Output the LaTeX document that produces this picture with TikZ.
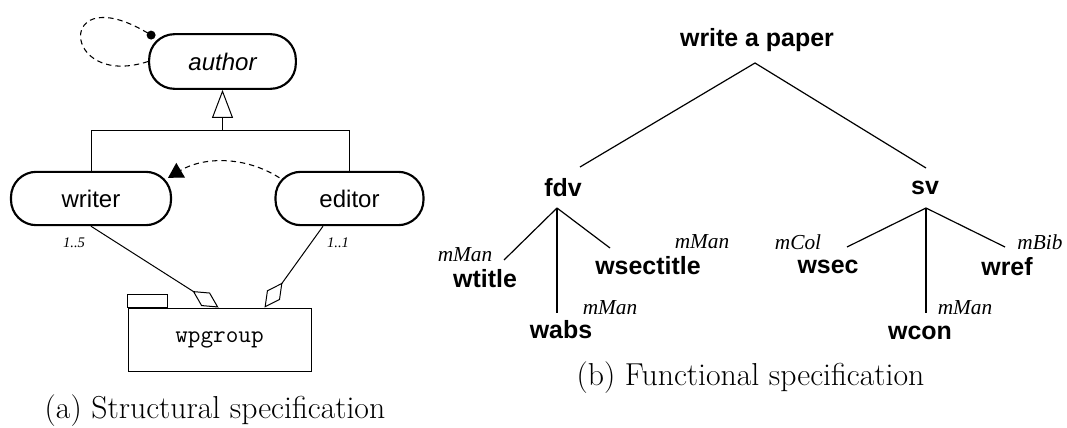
\documentclass[tikz,border=0pt]{standalone}
\usepackage{fontspec}
\setsansfont{Liberation Sans}
\newfontfamily\timesfam{Liberation Serif}
\usetikzlibrary{arrows.meta,calc}

\begin{document}
\begin{tikzpicture}[x=0.75pt,y=-0.75pt,
  role/.style={draw, line width=1.6pt, rounded corners=19pt, minimum height=40pt,
    inner sep=0pt, font=\sffamily\fontsize{18}{21}\selectfont},
  grp/.style={draw, line width=0.7pt, minimum width=137.25pt, minimum height=47.25pt,
    inner sep=0pt, font=\ttfamily\fontsize{18.4}{22}\selectfont},
  thin/.style={line width=0.75pt},
  dashline/.style={line width=0.8pt, dash pattern=on 4pt off 3pt},
  mult/.style={inner sep=0pt, font=\timesfam\itshape\fontsize{11}{13}\selectfont},
  goal/.style={inner sep=0pt, font=\sffamily\bfseries\fontsize{18.7}{22}\selectfont},
  card/.style={inner sep=0pt, font=\timesfam\itshape\fontsize{16}{19}\selectfont},
  edge/.style={line width=0.9pt},
  caption/.style={inner sep=0pt, font=\fontsize{23.8}{28}\selectfont}]
\useasboundingbox (0,0) rectangle (1067,428);

% ---------- structural specification ----------
\node[role, minimum width=110pt, minimum height=41pt] (author) at (222.5,61.5) {\itshape author};
\node[role, minimum width=120pt] (writer) at (91,198.5) {writer};
\node[role, minimum width=111pt] (editor) at (349.5,198.5) {editor};
\node[grp] (wp) at (219.5,339.5) {wpgroup};
\draw[thin] (wp.north west) rectangle ++(40,-13);

% inheritance
\draw[thin] (writer.north) |- (editor.north |- 0,130) -- (editor.north);
\draw[thin, -{Triangle[open,length=21pt,width=15.75pt]}] (author.south |- 0,130) -- (author.south);

% compatibility loop on author
\coordinate (loopend) at ($(author.north west)+(3,2)$);
\draw[dashline] (author.west) .. controls (60,90) and (55,-25) .. (loopend);
\fill (loopend) circle (4.5);

% link editor -> writer
\coordinate (ec) at ($(editor.north west)+(5,7)$);
\coordinate (wc) at ($(writer.north east)+(-4,7)$);
\draw[dashline, -{Triangle[length=11pt,width=12.75pt]}] (ec) .. controls (245,156) and (204,156.5) .. (wc);

% composition into the group
\coordinate (wpA) at ($(wp.north west)+(91,0)$);
\coordinate (wpB) at ($(wp.north west)+(137,0)$);
\draw[thin, -{Diamond[open,length=23pt,width=12pt]}] (writer.south) -- (wpA);
\draw[thin, -{Diamond[open,length=23pt,width=12pt]}] ($(editor.south)+(-26.5,0)$) -- (wpB);
\node[mult] (m1) at (74,243) {1..5};
\node[mult] (m2) at (338,243) {1..1};

\node[caption] (capA) at (215,411) {(a) Structural specification};

% ---------- functional specification ----------
\node[goal] (root) at (757,40) {write a paper};
\node[goal] (fdv) at (563,188) {fdv};
\node[goal] (sv) at (925,188) {sv};
\node[goal] (wtitle) at (485,279) {wtitle};
\node[goal] (wsectitle) at (648,266) {wsectitle};
\node[goal] (wabs) at (561,330) {wabs};
\node[goal] (wsec) at (828,267) {wsec};
\node[goal] (wref) at (1007,267) {wref};
\node[goal] (wcon) at (920,333) {wcon};

\node[card] (c1) at (465,255) {mMan};
\node[card] (c2) at (702,242) {mMan};
\node[card] (c3) at (610,308) {mMan};
\node[card] (c4) at (798,242) {mCol};
\node[card] (c5) at (1040,242) {mBib};
\node[card] (c6) at (965,308) {mMan};

\coordinate (rJ) at (755,63);
\coordinate (fdvT) at (580,167);
\coordinate (svT) at (926,168);
\coordinate (fJ) at (557,208);
\coordinate (sJ) at (926,208);
\coordinate (wtitleT) at (504,260);
\coordinate (wabsT) at (557,313);
\coordinate (wsectitleT) at (610,248);
\coordinate (wsecT) at (847,247);
\coordinate (wconT) at (926,313);
\coordinate (wrefT) at (1005,247);

\draw[edge] (fdvT) -- (rJ) -- (svT);
\draw[edge] (fJ) -- (wtitleT);
\draw[edge] (fJ) -- (wabsT);
\draw[edge] (fJ) -- (wsectitleT);
\draw[edge] (sJ) -- (wsecT);
\draw[edge] (sJ) -- (wconT);
\draw[edge] (sJ) -- (wrefT);

\node[caption] (capB) at (750.5,378) {(b) Functional specification};
\end{tikzpicture}
\end{document}
